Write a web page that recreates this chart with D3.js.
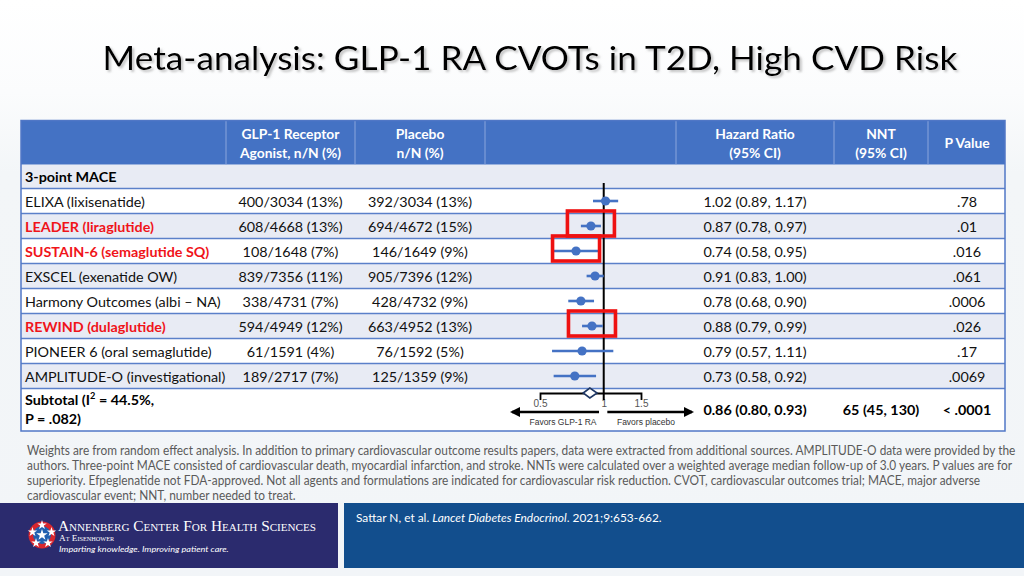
<!DOCTYPE html>
<html><head><meta charset="utf-8">
<script src="https://cdn.jsdelivr.net/npm/d3@7"></script>
<style>html,body{margin:0;padding:0;background:#fff;}svg{display:block;}</style>
</head><body><svg id="c" width="1024" height="576"></svg>
<script>
// ---------------- DATA ----------------
const studies = ["ELIXA (lixisenatide)","LEADER (liraglutide)","SUSTAIN-6 (semaglutide SQ)","EXSCEL (exenatide OW)","Harmony Outcomes (albi \u2013 NA)","REWIND (dulaglutide)","PIONEER 6 (oral semaglutide)","AMPLITUDE-O (investigational)"];
const highlighted = [false,true,true,false,false,true,false,false];
const glpEvents = ["400/3034 (13%)","608/4668 (13%)","108/1648 (7%)","839/7356 (11%)","338/4731 (7%)","594/4949 (12%)","61/1591 (4%)","189/2717 (7%)"];
const placeboEvents = ["392/3034 (13%)","694/4672 (15%)","146/1649 (9%)","905/7396 (12%)","428/4732 (9%)","663/4952 (13%)","76/1592 (5%)","125/1359 (9%)"];
const hrValues = [1.02,0.87,0.74,0.91,0.78,0.88,0.79,0.73];
const ciLow    = [0.89,0.78,0.58,0.83,0.68,0.79,0.57,0.58];
const ciHigh   = [1.17,0.97,0.95,1.00,0.90,0.99,1.11,0.92];
const pValues = [".78",".01",".016",".061",".0006",".026",".17",".0069"];
const subtotalHR = [0.86,0.80,0.93];
const subtotalNNT = "65 (45, 130)";
const subtotalP = "< .0001";
const axisTicks = [0.5,1,1.5];
const axisTickLabels = ["0.5","1","1.5"];
const headerLabels = [["GLP-1 Receptor","Agonist, n/N (%)"],["Placebo","n/N (%)"],["Hazard Ratio","(95% CI)"],["NNT","(95% CI)"],["P Value"]];
const footnotes = [
 "Weights are from random effect analysis. In addition to primary cardiovascular outcome results papers, data were extracted from additional sources. AMPLITUDE-O data were provided by the",
 "authors. Three-point MACE consisted of cardiovascular death, myocardial infarction, and stroke. NNTs were calculated over a weighted average median follow-up of 3.0 years. P values are for",
 "superiority. Efpeglenatide not FDA-approved. Not all agents and formulations are indicated for cardiovascular risk reduction. CVOT, cardiovascular outcomes trial; MACE, major adverse",
 "cardiovascular event; NNT, number needed to treat."];
const titleText = "Meta-analysis: GLP-1 RA CVOTs in T2D, High CVD Risk";

// ---------------- SETUP ----------------
const FONT = "Lato, 'Open Sans', sans-serif";
const svg = d3.select("#c");
const fmt = d3.format(".2f");
const BLUE = "#4472C4";

function measure(str, size, weight, family){
  const t = svg.append("text").attr("font-family",family||FONT).attr("font-size",size).attr("font-weight",weight||400).text(str);
  const w = t.node().getComputedTextLength(); t.remove(); return w;
}
function txt(parent, x, y, str, o={}){
  const sx = o.sx||1;
  const t = parent.append("text").attr("x",0).attr("y",0)
    .attr("transform",`translate(${x},${y}) scale(${sx},1)`)
    .attr("font-family",o.family||FONT).attr("font-size",o.size||14)
    .attr("font-weight",o.weight||400).attr("fill",o.fill||"#111")
    .attr("text-anchor",o.anchor||"start");
  if(str!==null) t.text(str);
  return t;
}

// background
const defs = svg.append("defs");
const gr = defs.append("linearGradient").attr("id","bg").attr("x1",0).attr("x2",0).attr("y1",0).attr("y2",1);
gr.append("stop").attr("offset","0%").attr("stop-color","#ffffff");
gr.append("stop").attr("offset","16%").attr("stop-color","#fbfcfd");
gr.append("stop").attr("offset","30%").attr("stop-color","#f3f6f8");
gr.append("stop").attr("offset","100%").attr("stop-color","#f2f5f8");
svg.append("rect").attr("width",1024).attr("height",576).attr("fill","url(#bg)");
const sh = defs.append("filter").attr("id","sh").attr("x","-5%").attr("y","-20%").attr("width","110%").attr("height","150%");
sh.append("feDropShadow").attr("dx",2).attr("dy",2).attr("stdDeviation",1.2).attr("flood-color","#888").attr("flood-opacity",0.5);

// title
const tw = measure(titleText, 33, 400);
txt(svg, 530, 70, titleText, {size:33, anchor:"middle", fill:"#000", sx:855/tw}).attr("filter","url(#sh)");

// ---------------- TABLE ----------------
const L = 21, R = 1005, HT = 120.5, HB = 164.5, BOT = 431;
const y = d3.scaleBand().domain(studies).range([188.5, 388.5]).padding(0);
const rowH = y.bandwidth();
const colX = {name:25, glp:290.5, plc:420, hr:755, nnt:881, p:967};
const dividers = [226,355,485,676,834,928];
const LIGHT = "#e8ebf4";

const tbl = svg.append("g");
tbl.append("rect").attr("x",L).attr("y",HB).attr("width",R-L).attr("height",BOT-HB).attr("fill","#fff");
tbl.append("rect").attr("x",L).attr("y",HB).attr("width",R-L).attr("height",188.5-HB).attr("fill",LIGHT);
tbl.selectAll("rect.row").data(studies).join("rect").attr("class","row")
  .attr("x",L).attr("y",d=>y(d)).attr("width",R-L).attr("height",rowH)
  .attr("fill",(d,i)=> i%2===1 ? LIGHT : "#fff");
const lineYs = [188.5].concat(studies.map(d=>y(d)+rowH));
tbl.selectAll("line.rl").data(lineYs).join("line").attr("class","rl")
  .attr("x1",L).attr("x2",R).attr("y1",d=>d).attr("y2",d=>d)
  .attr("stroke","#5b80c9").attr("stroke-width",1.5);
tbl.append("rect").attr("x",L).attr("y",HT).attr("width",R-L).attr("height",HB-HT).attr("fill",BLUE);
tbl.selectAll("line.dv").data(dividers).join("line").attr("class","dv")
  .attr("x1",d=>d).attr("x2",d=>d).attr("y1",HT).attr("y2",HB)
  .attr("stroke","#8aa5dc").attr("stroke-width",1);
tbl.append("rect").attr("x",L).attr("y",HT).attr("width",R-L).attr("height",BOT-HT)
  .attr("fill","none").attr("stroke","#5077c6").attr("stroke-width",1.5);

const sxT = Math.max(0.8, Math.min(1.1, 120/measure("ELIXA (lixisenatide)",14,400)));
const hdrX = [colX.glp, colX.plc, colX.hr, colX.nnt, colX.p];
headerLabels.forEach((lines,i)=>{
  if(lines.length===2){
    txt(tbl, hdrX[i], 138.5, lines[0], {size:13.5, weight:700, fill:"#fff", anchor:"middle", sx:sxT});
    txt(tbl, hdrX[i], 157.5, lines[1], {size:13.5, weight:700, fill:"#fff", anchor:"middle", sx:sxT});
  } else {
    txt(tbl, hdrX[i], 148, lines[0], {size:13.5, weight:700, fill:"#fff", anchor:"middle", sx:sxT});
  }
});
txt(tbl, colX.name, 182, "3-point MACE", {size:14, weight:700, fill:"#000", sx:sxT});

studies.forEach((s,i)=>{
  const by = y(s) + rowH/2 + 5.5;
  txt(tbl, colX.name, by, s, {size:14, weight: highlighted[i]?700:400, fill: highlighted[i]?"#f0141a":"#111", sx:sxT});
  txt(tbl, colX.glp, by, glpEvents[i], {size:14, anchor:"middle", sx:sxT});
  txt(tbl, colX.plc, by, placeboEvents[i], {size:14, anchor:"middle", sx:sxT});
  txt(tbl, colX.hr, by, `${fmt(hrValues[i])} (${fmt(ciLow[i])}, ${fmt(ciHigh[i])})`, {size:14, anchor:"middle", sx:sxT});
  txt(tbl, colX.p, by, pValues[i], {size:14, anchor:"middle", sx:sxT});
});
const st1 = txt(tbl, colX.name, 405, null, {size:14, weight:700, fill:"#000", sx:sxT});
st1.append("tspan").text("Subtotal (I");
st1.append("tspan").attr("font-size",9).attr("dy",-6).text("2");
st1.append("tspan").attr("dy",6).text(" = 44.5%,");
txt(tbl, colX.name, 424, "P = .082)", {size:14, weight:700, fill:"#000", sx:sxT});
txt(tbl, colX.hr, 414.5, `${fmt(subtotalHR[0])} (${fmt(subtotalHR[1])}, ${fmt(subtotalHR[2])})`, {size:14, weight:700, fill:"#000", anchor:"middle", sx:sxT});
txt(tbl, colX.nnt, 414.5, subtotalNNT, {size:14, weight:700, fill:"#000", anchor:"middle", sx:sxT});
txt(tbl, colX.p, 414.5, subtotalP, {size:14, weight:700, fill:"#000", anchor:"middle", sx:sxT});

// ---------------- FOREST PLOT ----------------
const x = d3.scaleLog().domain([0.5,1.5]).range([540,641]);
const fp = svg.append("g");
const axisY = 393;
const ax = fp.append("g").attr("transform",`translate(0,${axisY})`)
  .call(d3.axisBottom(x).tickValues(axisTicks).tickFormat((d,i)=>axisTickLabels[i]).tickSizeInner(0).tickSizeOuter(7).tickPadding(7));
ax.select(".domain").attr("stroke","#000").attr("stroke-width",1.8);
ax.selectAll("text").attr("font-family","'Liberation Sans', Arial, sans-serif").attr("font-size",10).attr("fill","#555");
fp.append("line").attr("x1",x(1)).attr("x2",x(1)).attr("y1",183).attr("y2",400).attr("stroke","#000").attr("stroke-width",2);
fp.selectAll("line.ci").data(studies).join("line").attr("class","ci")
  .attr("x1",(d,i)=>x(ciLow[i])).attr("x2",(d,i)=>x(ciHigh[i]))
  .attr("y1",d=>y(d)+rowH/2).attr("y2",d=>y(d)+rowH/2)
  .attr("stroke",BLUE).attr("stroke-width",2.6);
fp.selectAll("circle.pt").data(studies).join("circle").attr("class","pt")
  .attr("cx",(d,i)=>x(hrValues[i])).attr("cy",d=>y(d)+rowH/2).attr("r",4.6).attr("fill",BLUE);
const dl = x(subtotalHR[1]), dm = x(subtotalHR[0]), dr = x(subtotalHR[2]);
fp.append("path").attr("d",`M${dl},${axisY}L${dm},${axisY-5}L${dr},${axisY}L${dm},${axisY+5}Z`)
  .attr("fill","#fff").attr("stroke","#1f3764").attr("stroke-width",1.6);
defs.append("marker").attr("id","ah").attr("viewBox","0 0 10 10").attr("refX",8).attr("refY",5)
  .attr("markerWidth",4.2).attr("markerHeight",4.2).attr("orient","auto-start-reverse")
  .append("path").attr("d","M0,0L10,5L0,10Z").attr("fill","#000");
const arY = 412;
fp.append("line").attr("x1",x(0.95)).attr("x2",512).attr("y1",arY).attr("y2",arY)
  .attr("stroke","#000").attr("stroke-width",2.4).attr("marker-end","url(#ah)");
fp.append("line").attr("x1",x(1.04)).attr("x2",692).attr("y1",arY).attr("y2",arY)
  .attr("stroke","#000").attr("stroke-width",2.4).attr("marker-end","url(#ah)");
txt(fp, 563, 424.5, "Favors GLP-1 RA", {size:8.5, family:"'Liberation Sans', Arial, sans-serif", anchor:"middle", fill:"#333"});
txt(fp, 646, 424.5, "Favors placebo", {size:8.5, family:"'Liberation Sans', Arial, sans-serif", anchor:"middle", fill:"#333"});
fp.selectAll("rect.hl").data(studies.filter((d,i)=>highlighted[i])).join("rect").attr("class","hl")
  .attr("x",d=>x(hrValues[studies.indexOf(d)])-23.5).attr("y",d=>y(d)-2.5)
  .attr("width",47).attr("height",25)
  .attr("fill","none").attr("stroke","#ee1111").attr("stroke-width",3.6);

// ---------------- FOOTNOTES ----------------
const fnW = measure(footnotes[0], 12.5, 400);
const sxF = 989/fnW;
footnotes.forEach((f,i)=> txt(svg, 27, 455 + i*15, f, {size:12.5, fill:"#5a5a5a", sx:sxF}));

// ---------------- FOOTER BANNER ----------------
svg.append("rect").attr("x",0).attr("y",503).attr("width",338).attr("height",65).attr("fill","#2b2b6e");
svg.append("rect").attr("x",344).attr("y",503).attr("width",680).attr("height",65).attr("fill","#124e8d");
const cit = txt(svg, 356, 522, null, {size:11.5, fill:"#fff"});
cit.append("tspan").text("Sattar N, et al. ");
cit.append("tspan").attr("font-style","italic").text("Lancet Diabetes Endocrinol");
cit.append("tspan").text(". 2021;9:653-662.");
const cw = cit.node().getComputedTextLength();
cit.attr("transform",`translate(356,522) scale(${306/cw},1)`);
const lg = svg.append("g").attr("transform","translate(42,535)");
lg.append("circle").attr("r",13.5).attr("fill","#d8262e");
lg.append("circle").attr("r",9).attr("fill","#2160b0");
const star = d3.symbol().type(d3.symbolStar).size(28);
[[0,-10],[9.5,-3],[6,8],[-6,8],[-9.5,-3]].forEach(p=>lg.append("path").attr("d",star()).attr("transform",`translate(${p[0]},${p[1]})`).attr("fill","#fff"));
lg.append("path").attr("d",d3.symbol().type(d3.symbolStar).size(40)()).attr("fill","#fff");
const lt = txt(svg, 58, 531, "Annenberg Center For Health Sciences", {size:15, family:"'Liberation Serif', 'DejaVu Serif', serif", fill:"#fff"});
lt.attr("font-variant","small-caps");
const ltw = lt.node().getComputedTextLength();
lt.attr("transform",`translate(58,531) scale(${260/ltw},1)`);
const at = txt(svg, 59, 541, "At Eisenhower", {size:8.5, family:"'Liberation Serif', serif", fill:"#fff"}).attr("font-variant","small-caps");
const atw = at.node().getComputedTextLength();
at.attr("transform",`translate(59,541) scale(${57/atw},1)`);
const im = txt(svg, 59, 552, "Imparting knowledge. Improving patient care.", {size:8, fill:"#fff"}).attr("font-style","italic");
const imw = im.node().getComputedTextLength();
im.attr("transform",`translate(59,552) scale(${170/imw},1)`);
</script></body></html>
